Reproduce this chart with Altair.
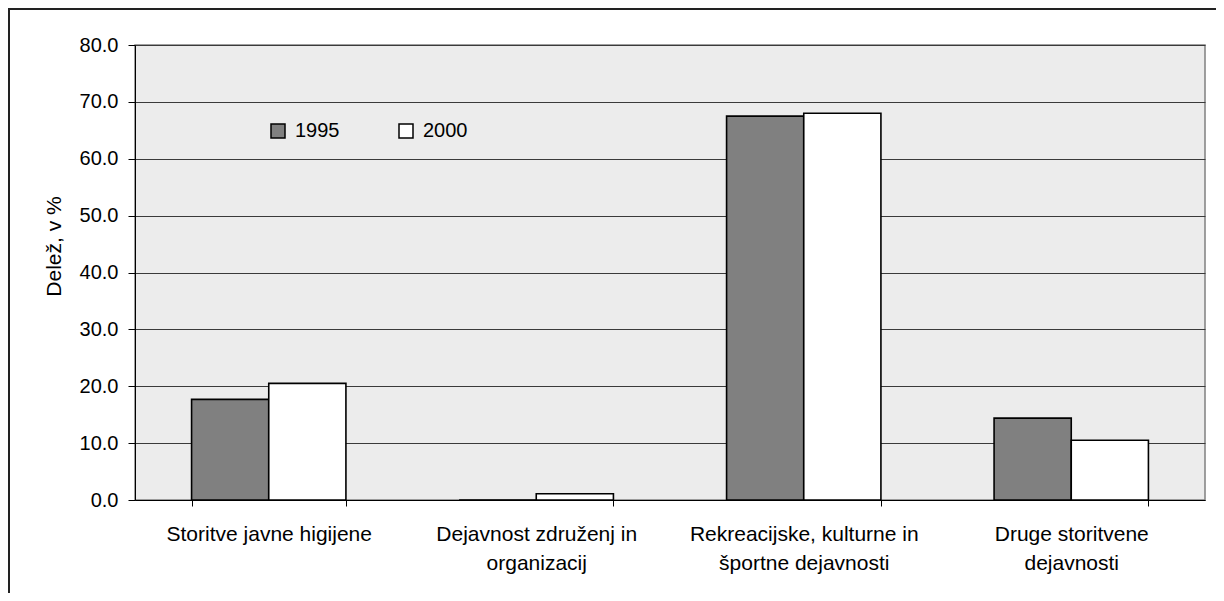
import altair as alt
import pandas as pd

categories = [
    "Storitve javne higijene",
    "Dejavnost združenj in\norganizacij",
    "Rekreacijske, kulturne in\nšportne dejavnosti",
    "Druge storitvene\ndejavnosti",
]
years = ["1995", "2000"]
values_1995 = [17.7, 0.0, 67.5, 14.4]
values_2000 = [20.5, 1.1, 68.0, 10.5]
y_ticks = [0, 10, 20, 30, 40, 50, 60, 70, 80]

rows = []
for c, v in zip(categories, values_1995):
    rows.append({"category": c, "year": "1995", "value": v})
for c, v in zip(categories, values_2000):
    rows.append({"category": c, "year": "2000", "value": v})
df = pd.DataFrame(rows)

FONT = "Liberation Sans"

bars = alt.Chart(df).mark_bar(stroke="black", strokeWidth=1.6).encode(
    x=alt.X(
        "category:N",
        sort=categories,
        scale=alt.Scale(paddingInner=0.423, paddingOuter=0.2115),
        axis=alt.Axis(
            title=None,
            labelAngle=0,
            labelExpr="split(datum.label, '\\n')",
            tickBand="extent",
            tickSize=6,
            tickColor="black",
            domainColor="black",
            labelColor="black",
            labelFontSize=21,
            labelLineHeight=29,
            labelPadding=17,
            labelLimit=400,
            grid=False,
        ),
    ),
    xOffset=alt.XOffset("year:N", sort=years, scale=alt.Scale(paddingInner=0, paddingOuter=0)),
    y=alt.Y(
        "value:Q",
        scale=alt.Scale(domain=[0, 80]),
        axis=alt.Axis(
            title="Delež, v %",
            values=y_ticks,
            format=".1f",
            tickSize=7,
            tickColor="black",
            domainColor="black",
            labelColor="black",
            labelFontSize=20,
            labelPadding=10,
            titleFontSize=21,
            titleFontWeight="normal",
            titleColor="black",
            titleAngle=270,
            titleX=-75,
            titleY=201,
            titleAlign="center",
            titleBaseline="alphabetic",
            grid=True,
            gridColor="#3a3a3a",
            gridWidth=1,
        ),
    ),
    color=alt.Color(
        "year:N",
        sort=years,
        scale=alt.Scale(domain=years, range=["#808080", "#ffffff"]),
        legend=alt.Legend(
            title=None,
            orient="none",
            legendX=133,
            legendY=76,
            direction="horizontal",
            symbolType="square",
            symbolSize=196,
            symbolStrokeColor="black",
            symbolStrokeWidth=1.5,
            labelFontSize=20,
            labelColor="black",
            labelOffset=7,
            columnPadding=56,
            padding=0,
        ),
    ),
)

frame = alt.Chart(pd.DataFrame({"f": [0]})).mark_rect(
    fillOpacity=0, stroke="#222222", strokeWidth=2
).encode(
    x=alt.value(-126), x2=alt.value(1300), y=alt.value(-36), y2=alt.value(700)
)

chart = alt.layer(bars, frame).properties(
    width=1070,
    height=455,
    autosize=alt.AutoSizeParams(type="none"),
    padding={"left": 127, "top": 37, "right": 11, "bottom": 93},
    background="white",
).configure(font=FONT).configure_view(
    fill="#ececec", stroke="#808080", strokeWidth=1.5
)

chart.save("out.html", embed_options={"renderer": "svg", "actions": False})
